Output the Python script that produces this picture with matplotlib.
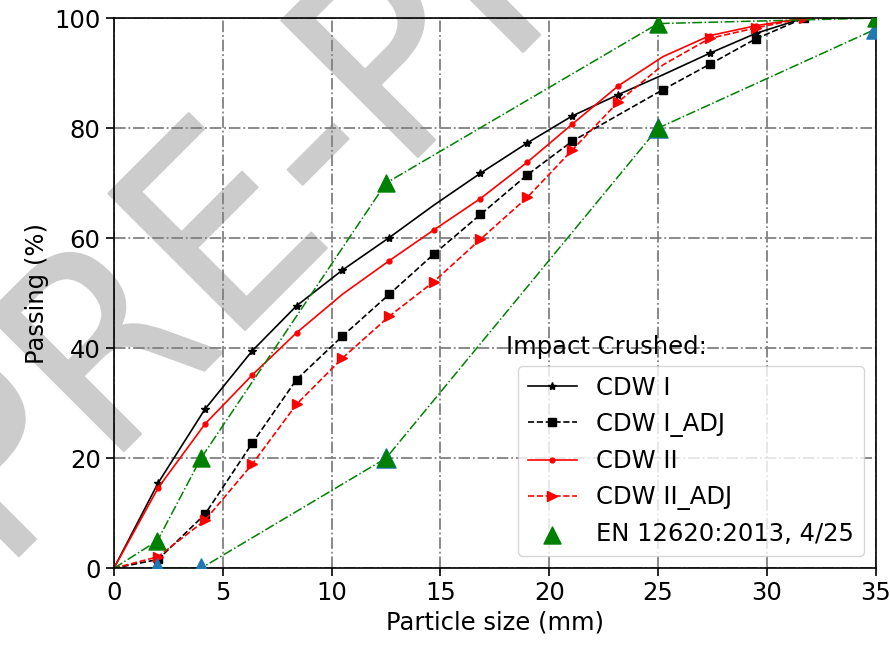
import numpy as np
import matplotlib.pyplot as plt
from matplotlib.textpath import TextPath
from matplotlib.patches import PathPatch
from matplotlib.transforms import Affine2D
from matplotlib.font_manager import FontProperties

# sieve sizes (mm) and cumulative passing (%)
size = [0, 2.03, 4.18, 6.35, 8.39, 10.5, 12.65, 14.7, 16.84, 18.99, 21.05, 23.18, 25.23, 27.37, 29.48, 31.7]
cdw1 = [0, 15.5, 28.9, 39.5, 47.7, 54.2, 60.1, 66.0, 71.8, 77.3, 82.2, 86.1, 89.7, 93.6, 97.2, 100]
cdw1_adj = [0, 1.6, 9.8, 22.7, 34.3, 42.2, 49.8, 57.1, 64.3, 71.5, 77.6, 82.4, 87.0, 91.6, 96.2, 100]
cdw2 = [0, 14.6, 26.2, 35.1, 42.8, 49.8, 55.9, 61.5, 67.2, 73.8, 80.7, 87.7, 93.0, 96.8, 98.6, 100]
cdw2_adj = [0, 2.1, 8.7, 18.9, 29.8, 38.2, 45.8, 52.1, 59.8, 67.4, 76.0, 84.8, 91.5, 96.3, 98.2, 100]

# points without a marker on each curve
mark_cdw1 = [i for i in range(1, 16) if i not in (7, 12)]
mark_cdw1_adj = [i for i in range(1, 16) if i != 11]
mark_cdw2 = [i for i in range(1, 16) if i not in (5, 12)]
mark_cdw2_adj = [i for i in range(1, 16) if i != 12]

# EN 12620:2013 grading envelope for 4/25
en_x = [2, 4, 12.5, 25, 35]
en_upper = [5, 20, 70, 99, 100]
en_lower = [0, 0, 20, 80, 98]

fs = 17.5
plt.rcParams['font.size'] = fs

fig, ax = plt.subplots(figsize=(8.9, 6.45), dpi=100)
fig.subplots_adjust(left=0.128, right=0.984, bottom=0.119, top=0.972)
ax.set_facecolor("none")

ax.plot(size, cdw1, "-", color="black", lw=1.2, marker="*", ms=6, markevery=mark_cdw1, label="CDW I")
ax.plot(size, cdw1_adj, "--", color="black", lw=1.2, marker="s", ms=6, markevery=mark_cdw1_adj, label="CDW I_ADJ")
ax.plot(size, cdw2, "-", color="red", lw=1.2, marker=".", ms=7, markevery=mark_cdw2, label="CDW II")
ax.plot(size, cdw2_adj, "--", color="red", lw=1.2, marker=">", ms=6.5, markevery=mark_cdw2_adj, label="CDW II_ADJ")

ax.plot([0] + en_x, [0] + en_upper, "-.", color="green", lw=1.1)
ax.plot([0] + en_x, [0] + en_lower, "-.", color="green", lw=1.1)
ax.scatter(en_x, en_lower, marker="^", s=190, color="tab:blue", zorder=3)
ax.scatter(en_x + en_x[2:4], en_upper + en_lower[2:4], marker="^", s=150, color="green", zorder=4,
           label="EN 12620:2013, 4/25")

ax.set_xlim(0, 35)
ax.set_ylim(0, 100)
ax.set_xticks(np.arange(0, 36, 5))
ax.set_yticks(np.arange(0, 101, 20))
ax.set_xlabel("Particle size (mm)")
ax.set_ylabel("Passing (%)")
ax.grid(True, color="gray", linestyle="-.", lw=1.3)
ax.tick_params(length=6, width=1.2)
for s in ax.spines.values():
    s.set_linewidth(1.2)

ax.text(18, 39, "Impact Crushed:", fontsize=fs)
ax.legend(loc="lower right", fontsize=fs)

# pre-print watermark, drawn under the axes (pixel coords)
tp = TextPath((0, 0), "PRE-PRINT", size=265, prop=FontProperties(family="DejaVu Sans"))
tr = Affine2D().scale(0.93, 1).rotate_deg(45).translate(1.7, 71.7)
fig.add_artist(PathPatch(tp, transform=tr, facecolor="#cccccc", edgecolor="#cccccc",
                         lw=1.5, joinstyle="round", zorder=-1))

fig.savefig("out.png", dpi=100)
